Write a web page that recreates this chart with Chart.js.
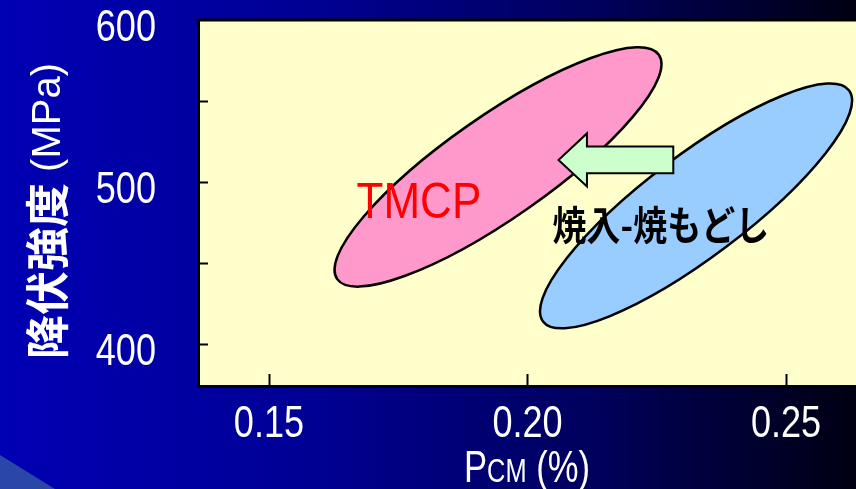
<!DOCTYPE html>
<html>
<head>
<meta charset="utf-8">
<script src="https://cdn.jsdelivr.net/npm/chart.js@4/dist/chart.umd.min.js"></script>
<style>
  html, body { margin: 0; padding: 0; background: #000060; overflow: hidden; }
</style>
</head>
<body>
<canvas id="chart" width="856" height="489"></canvas>
<script>
// regions, in data units (Pcm %, MPa)
const regionLabels = ["TMCP", "焼入-焼もどし"];
const centerX = [0.1943, 0.2326];
const centerY = [509.3, 485.2];
const majorTipX = [0.2254, 0.2622]; // end of the long axis
const majorTipY = [578.6, 556.5];
const minorTipX = [0.2000, 0.2385]; // end of the short axis
const minorTipY = [483.5, 460.1];
const labelX = [0.1790, 0.2258];
const labelY = [486.5, 473.5];

// arrow pointing from the Q-T zone to TMCP
const arrowTailX = 0.2282;
const arrowHeadX = 0.2115;
const arrowTipX = 0.2060;
const arrowY = 513.6;

const xTicks = [0.15, 0.20, 0.25];
const yTicks = [400, 450, 500, 550, 600];
const yLabelled = [400, 500, 600];

const regionColors = ["#ff99cc", "#99ccff"];
const labelColors = ["#ff0000", "#000000"];
const sans = "'Liberation Sans', Arial, sans-serif";

function squeezed(ctx, text, x, y, font, color, sx, align, baseline) {
  ctx.save();
  ctx.translate(x, y);
  ctx.scale(sx, 1);
  ctx.font = font;
  ctx.fillStyle = color;
  ctx.textAlign = align || "center";
  ctx.textBaseline = baseline || "middle";
  ctx.fillText(text, 0, 0);
  ctx.restore();
}

const slidePlugin = {
  id: "slide",
  beforeDraw(chart) {
    const { ctx, width, height, chartArea: a } = chart;
    ctx.save();
    const g = ctx.createLinearGradient(0, 0, width, 0);
    g.addColorStop(0, "#0000b4");
    g.addColorStop(0.35, "#000096");
    g.addColorStop(0.7, "#00005c");
    g.addColorStop(1, "#000012");
    ctx.fillStyle = g;
    ctx.fillRect(0, 0, width, height);
    // lighter corner band
    ctx.fillStyle = "#2a46a8";
    ctx.beginPath();
    ctx.moveTo(0, 455);
    ctx.lineTo(55, height);
    ctx.lineTo(0, height);
    ctx.closePath();
    ctx.fill();
    // plot area
    ctx.fillStyle = "#ffffcc";
    ctx.fillRect(a.left, a.top, a.right - a.left, a.bottom - a.top);
    ctx.restore();
  },
  afterDatasetsDraw(chart) {
    const { ctx, scales: { x, y } } = chart;
    ctx.save();
    regionLabels.forEach((_, i) => {
      const cx = x.getPixelForValue(centerX[i]);
      const cy = y.getPixelForValue(centerY[i]);
      const ux = x.getPixelForValue(majorTipX[i]) - cx;
      const uy = y.getPixelForValue(majorTipY[i]) - cy;
      const vx = x.getPixelForValue(minorTipX[i]) - cx;
      const vy = y.getPixelForValue(minorTipY[i]) - cy;
      ctx.save();
      ctx.beginPath();
      ctx.transform(ux, uy, vx, vy, cx, cy);
      ctx.arc(0, 0, 1, 0, Math.PI * 2);
      ctx.restore();
      ctx.fillStyle = regionColors[i];
      ctx.fill();
      ctx.lineWidth = 2.5;
      ctx.strokeStyle = "#000";
      ctx.stroke();
    });

    // arrow
    const tx = x.getPixelForValue(arrowTailX);
    const hx = x.getPixelForValue(arrowHeadX);
    const px = x.getPixelForValue(arrowTipX);
    const ay = y.getPixelForValue(arrowY);
    ctx.beginPath();
    ctx.moveTo(px, ay);
    ctx.lineTo(hx, ay - 26.5);
    ctx.lineTo(hx, ay - 13.3);
    ctx.lineTo(tx, ay - 13.3);
    ctx.lineTo(tx, ay + 13.3);
    ctx.lineTo(hx, ay + 13.3);
    ctx.lineTo(hx, ay + 26.5);
    ctx.closePath();
    ctx.fillStyle = "#ccffcc";
    ctx.fill();
    ctx.lineWidth = 2;
    ctx.strokeStyle = "#000";
    ctx.stroke();

    // region names
    squeezed(ctx, regionLabels[0], x.getPixelForValue(labelX[0]), y.getPixelForValue(labelY[0]),
      "50px " + sans, labelColors[0], 0.88);
    squeezed(ctx, regionLabels[1], x.getPixelForValue(labelX[1]), y.getPixelForValue(labelY[1]),
      "bold 40px 'Noto Sans CJK JP', sans-serif", labelColors[1], 0.85);
    ctx.restore();
  },
  afterDraw(chart) {
    const { ctx, chartArea: a, scales: { x, y } } = chart;
    ctx.save();
    ctx.strokeStyle = "#000";
    // top frame line
    ctx.lineWidth = 3;
    ctx.beginPath();
    ctx.moveTo(a.left - 1.5, a.top);
    ctx.lineTo(a.right, a.top);
    ctx.stroke();
    // inward tick marks
    ctx.lineWidth = 2;
    ctx.beginPath();
    y.ticks.forEach(t => {
      if (t.value >= 600) return;
      const py = Math.round(y.getPixelForValue(t.value)) + 0.5;
      ctx.moveTo(a.left, py);
      ctx.lineTo(a.left + 10, py);
    });
    x.ticks.forEach(t => {
      const px = Math.round(x.getPixelForValue(t.value)) + 0.5;
      ctx.moveTo(px, a.bottom);
      ctx.lineTo(px, a.bottom - 12);
    });
    ctx.stroke();

    // tick labels (narrow face, squeezed like the slide)
    y.ticks.forEach(t => {
      if (!yLabelled.includes(t.value)) return;
      squeezed(ctx, String(t.value), 156, y.getPixelForValue(t.value) + 21,
        "44px " + sans, "#fff", 0.82, "right", "alphabetic");
    });
    x.ticks.forEach(t => {
      squeezed(ctx, t.value.toFixed(2), x.getPixelForValue(t.value), 437,
        "44px " + sans, "#fff", 0.82, "center", "alphabetic");
    });

    // y title: 降伏強度 (MPa)
    ctx.save();
    ctx.translate(47, (a.top + a.bottom) / 2 + 8);
    ctx.rotate(-Math.PI / 2);
    ctx.fillStyle = "#fff";
    ctx.textBaseline = "middle";
    const f1 = "bold 44px 'Noto Sans CJK JP', sans-serif";
    const f2 = "40px " + sans;
    const p1 = "降伏強度", p2 = " (MPa)";
    ctx.font = f1; const w1 = ctx.measureText(p1).width;
    ctx.font = f2; const w2 = ctx.measureText(p2).width;
    const sx = -(w1 + w2) / 2;
    ctx.font = f1; ctx.fillText(p1, sx, 0);
    ctx.font = f2; ctx.fillText(p2, sx + w1, 2);
    ctx.restore();

    // x title: Pcm (%)
    ctx.save();
    ctx.translate((a.left + a.right) / 2, 482);
    ctx.scale(0.77, 1);
    ctx.fillStyle = "#fff";
    ctx.textBaseline = "alphabetic";
    const parts = [["P", "45px"], ["CM", "33px"], [" (%)", "45px"]];
    let total = 0;
    parts.forEach(p => { ctx.font = p[1] + " " + sans; p.push(ctx.measureText(p[0]).width); total += p[2]; });
    let cx = -total / 2;
    parts.forEach(p => { ctx.font = p[1] + " " + sans; ctx.fillText(p[0], cx, 0); cx += p[2]; });
    ctx.restore();
    ctx.restore();
  }
};

const noPad = s => { s.paddingTop = 0; s.paddingBottom = 0; s.paddingLeft = 0; s.paddingRight = 0; };

new Chart(document.getElementById("chart"), {
  type: "scatter",
  data: {
    datasets: regionLabels.map((name, i) => ({
      label: name,
      data: [{ x: centerX[i], y: centerY[i] }],
      pointRadius: 0,
      backgroundColor: regionColors[i]
    }))
  },
  options: {
    responsive: false,
    animation: false,
    layout: { padding: { top: 20, left: 0, right: 0, bottom: 0 } },
    plugins: { legend: { display: false }, tooltip: { enabled: false } },
    scales: {
      x: {
        type: "linear",
        min: 0.13627,
        max: 0.26354,
        afterBuildTicks: s => { s.ticks = xTicks.map(v => ({ value: v })); },
        afterFit: s => { s.height = 103; noPad(s); },
        grid: { display: false, drawTicks: false },
        border: { display: true, color: "#000", width: 3 },
        ticks: { display: false }
      },
      y: {
        min: 374,
        max: 600,
        afterBuildTicks: s => { s.ticks = yTicks.map(v => ({ value: v })); },
        afterFit: s => { s.width = 198; noPad(s); },
        grid: { display: false, drawTicks: false },
        border: { display: true, color: "#000", width: 3 },
        ticks: { display: false }
      }
    }
  },
  plugins: [slidePlugin]
});
</script>
</body>
</html>
